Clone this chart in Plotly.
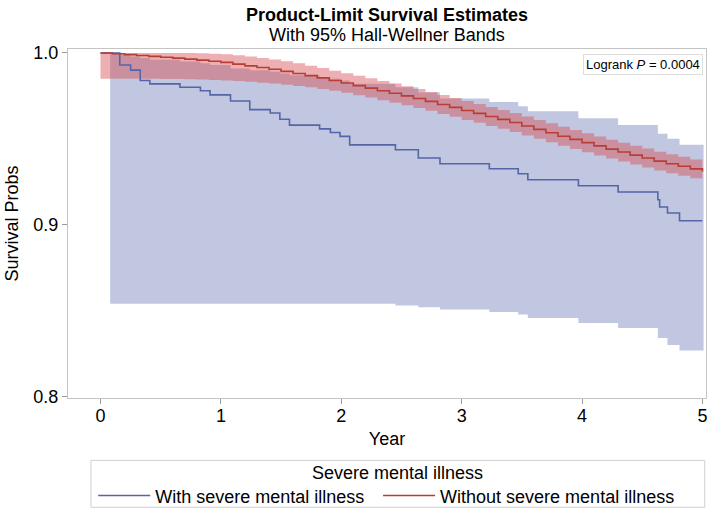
import plotly.graph_objects as go

# ---- data ----
# Without severe mental illness (red): KM estimate and Hall-Wellner band
red_t = [0.0, 0.1, 0.2, 0.3, 0.4, 0.5, 0.6, 0.7, 0.8, 0.9, 1.0, 1.1, 1.2, 1.3, 1.4,
         1.5, 1.6, 1.7, 1.8, 1.9, 2.0, 2.1, 2.2, 2.3, 2.4, 2.5, 2.6, 2.7, 2.8, 2.9,
         3.0, 3.1, 3.2, 3.3, 3.4, 3.5, 3.6, 3.7, 3.8, 3.9, 4.0, 4.1, 4.2, 4.3, 4.4,
         4.5, 4.6, 4.7, 4.8, 4.9, 5.0]
red_s = [1.0000, 0.9995, 0.9990, 0.9985, 0.9980, 0.9975, 0.9970, 0.9964, 0.9958,
         0.9952, 0.9945, 0.9935, 0.9925, 0.9915, 0.9905, 0.9893, 0.9880, 0.9868,
         0.9855, 0.9840, 0.9825, 0.9810, 0.9795, 0.9780, 0.9765, 0.9750, 0.9735,
         0.9718, 0.9700, 0.9683, 0.9665, 0.9648, 0.9630, 0.9613, 0.9595, 0.9575,
         0.9555, 0.9535, 0.9515, 0.9497, 0.9478, 0.9459, 0.9440, 0.9423, 0.9405,
         0.9388, 0.9370, 0.9355, 0.9340, 0.9325, 0.9310]
red_up = [1.0000, 1.0000, 1.0000, 1.0000, 1.0000, 1.0000, 1.0000, 1.0000, 0.9998,
          0.9996, 0.9992, 0.9986, 0.9980, 0.9971, 0.9962, 0.9951, 0.9940, 0.9926,
          0.9912, 0.9897, 0.9882, 0.9867, 0.9852, 0.9837, 0.9822, 0.9806, 0.9790,
          0.9773, 0.9755, 0.9738, 0.9720, 0.9703, 0.9685, 0.9668, 0.9650, 0.9630,
          0.9610, 0.9590, 0.9570, 0.9551, 0.9532, 0.9513, 0.9494, 0.9477, 0.9460,
          0.9443, 0.9425, 0.9410, 0.9395, 0.9380, 0.9365]
red_lo = [0.9850, 0.9850, 0.9850, 0.9850, 0.9850, 0.9849, 0.9848, 0.9847, 0.9845,
          0.9843, 0.9840, 0.9836, 0.9832, 0.9827, 0.9822, 0.9815, 0.9808, 0.9800,
          0.9790, 0.9780, 0.9768, 0.9754, 0.9740, 0.9725, 0.9710, 0.9695, 0.9680,
          0.9663, 0.9645, 0.9628, 0.9610, 0.9593, 0.9575, 0.9558, 0.9540, 0.9520,
          0.9500, 0.9480, 0.9460, 0.9441, 0.9422, 0.9403, 0.9385, 0.9368, 0.9350,
          0.9333, 0.9315, 0.9300, 0.9285, 0.9270, 0.9255]

# With severe mental illness (blue): KM step estimate
blue_t = [0.0, 0.16, 0.25, 0.33, 0.41, 0.66, 0.83, 0.91, 1.08, 1.24, 1.41, 1.49,
          1.57, 1.82, 1.91, 1.99, 2.07, 2.45, 2.64, 2.82, 3.23, 3.47, 3.55, 3.97,
          4.30, 4.63, 4.645, 4.71, 4.81, 5.0]
blue_s = [1.000, 0.993, 0.990, 0.984, 0.982, 0.980, 0.978, 0.9756, 0.972, 0.967,
          0.965, 0.9614, 0.958, 0.9558, 0.9537, 0.9514, 0.9465, 0.9436, 0.9388,
          0.9355, 0.9326, 0.9297, 0.9262, 0.9227, 0.919, 0.9145, 0.9103, 0.9068,
          0.9023, 0.9023]
# Hall-Wellner band (blue)
band_t = [0.08, 0.16, 0.25, 0.33, 0.41, 0.66, 0.83, 0.91, 1.08, 1.24, 1.41, 1.49,
          1.57, 1.82, 1.91, 1.99, 2.07, 2.45, 2.64, 2.82, 3.23, 3.47, 3.55, 3.97,
          4.30, 4.63, 4.71, 4.81, 5.01]
band_up = [1.000, 0.999, 0.998, 0.997, 0.996, 0.995, 0.994, 0.993, 0.991, 0.990,
           0.989, 0.988, 0.987, 0.986, 0.985, 0.984, 0.982, 0.980, 0.977, 0.9735,
           0.9715, 0.969, 0.966, 0.962, 0.958, 0.953, 0.950, 0.9465, 0.9465]
band_lo = [0.854, 0.854, 0.854, 0.854, 0.854, 0.854, 0.854, 0.854, 0.854, 0.854,
           0.854, 0.854, 0.854, 0.854, 0.854, 0.854, 0.854, 0.853, 0.852, 0.8506,
           0.8492, 0.8477, 0.8457, 0.8428, 0.8399, 0.834, 0.830, 0.8267, 0.8267]

x_ticks = [0, 1, 2, 3, 4, 5]
y_ticks = [0.8, 0.9, 1.0]
y_tick_text = ["0.8", "0.9", "1.0"]

FONT = "Liberation Sans, Arial, sans-serif"
BLUE = "rgb(84,102,168)"
RED = "rgb(184,62,52)"

fig = go.Figure()
# blue band
fig.add_trace(go.Scatter(x=band_t, y=band_up, mode="lines", line=dict(width=0, shape="hv"),
                         showlegend=False, hoverinfo="skip"))
fig.add_trace(go.Scatter(x=band_t, y=band_lo, mode="lines", line=dict(width=0, shape="hv"),
                         fill="tonexty", fillcolor="rgb(193,199,224)",
                         showlegend=False, hoverinfo="skip"))
# red band
fig.add_trace(go.Scatter(x=red_t, y=red_up, mode="lines", line=dict(width=0, shape="hv"),
                         showlegend=False, hoverinfo="skip"))
fig.add_trace(go.Scatter(x=red_t, y=red_lo, mode="lines", line=dict(width=0, shape="hv"),
                         fill="tonexty", fillcolor="rgba(216,78,82,0.45)",
                         showlegend=False, hoverinfo="skip"))
# lines
fig.add_trace(go.Scatter(x=blue_t, y=blue_s, mode="lines", name="With severe mental illness",
                         line=dict(color=BLUE, width=1.6, shape="hv"), legend="legend"))
fig.add_trace(go.Scatter(x=red_t, y=red_s, mode="lines", name="Without severe mental illness",
                         line=dict(color=RED, width=1.6, shape="hv"), legend="legend2"))

leg_common = dict(orientation="h", y=-0.2274, yanchor="top", xanchor="left",
                  borderwidth=0, bgcolor="rgba(0,0,0,0)", font=dict(size=18),
                  itemwidth=52)

fig.update_layout(
    width=709, height=510,
    margin=dict(l=68, r=3, t=49, b=112, autoexpand=False),
    paper_bgcolor="white", plot_bgcolor="white",
    font=dict(family=FONT, size=18, color="black"),
    xaxis=dict(range=[-0.27, 5.03], tickvals=x_ticks, ticks="outside", ticklen=5,
               tickcolor="#9a9a9a", showline=True, linecolor="#c4c4c4", mirror=True,
               showgrid=False, zeroline=False, tickfont=dict(size=18),
               ticklabelstandoff=-4,
               title=dict(text="Year", font=dict(size=18), standoff=7)),
    yaxis=dict(range=[0.7991, 1.0023], tickvals=y_ticks, ticktext=y_tick_text,
               ticks="outside", ticklen=5, tickcolor="#9a9a9a", showline=True,
               linecolor="#c4c4c4", mirror=True, showgrid=False, zeroline=False,
               tickfont=dict(size=18),
               title=dict(text="Survival Probs", font=dict(size=18), standoff=10)),
    legend=dict(x=0.0395, **leg_common),
    legend2=dict(x=0.4860, **leg_common),
    shapes=[
        dict(type="rect", xref="paper", yref="paper", x0=0.036, x1=0.998,
             y0=-0.3133, y1=-0.1788, line=dict(color="#d0d0d0", width=1),
             fillcolor="rgba(0,0,0,0)", layer="below"),
    ],
    annotations=[
        dict(text="<b>Product-Limit Survival Estimates</b>", x=0.5, xref="paper",
             y=1.0973, yref="paper", yanchor="middle", showarrow=False, font=dict(size=18)),
        dict(text="With 95% Hall-Wellner Bands", x=0.5, xref="paper",
             y=1.0401, yref="paper", yanchor="middle", showarrow=False, font=dict(size=18)),
        dict(text="Logrank <i>P</i> = 0.0004", x=0.995, xref="paper", y=0.985,
             yref="paper", xanchor="right", yanchor="top", showarrow=False,
             font=dict(size=13), bgcolor="white", bordercolor="#dddddd",
             borderwidth=1, borderpad=2),
        dict(text="Severe mental illness", x=0.517, xref="paper", y=-0.216,
             yref="paper", yanchor="middle", showarrow=False, font=dict(size=18)),
    ],
)
fig.write_html("out.html", config={"displayModeBar": False},
               post_script="document.body.style.margin='0';")
